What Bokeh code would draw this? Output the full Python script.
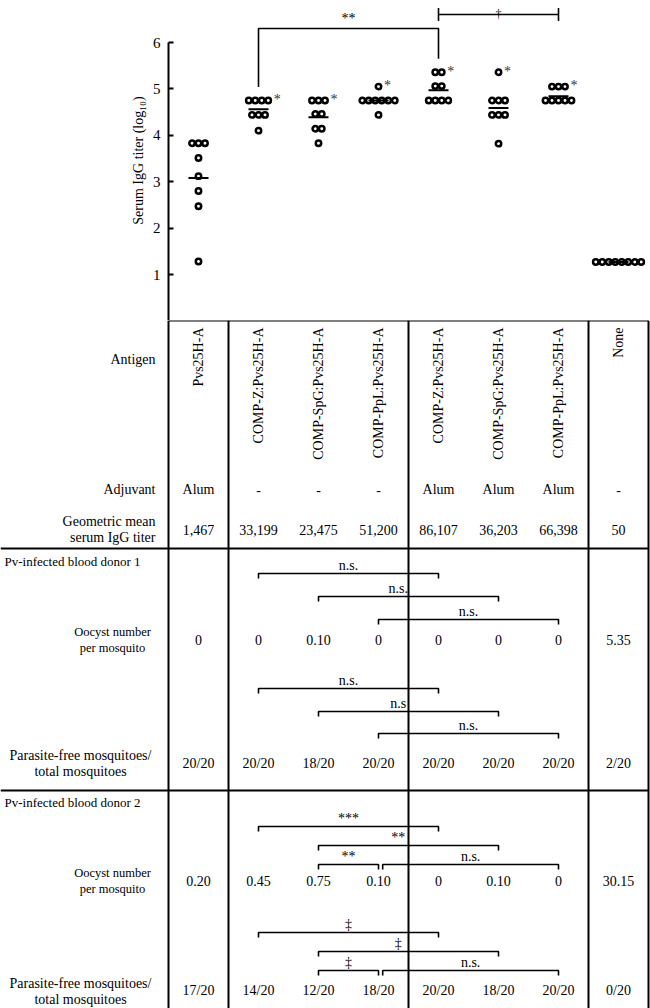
import numpy as np
from bokeh.plotting import figure
from bokeh.models import Range1d, FixedTicker
from bokeh.layouts import column
from bokeh.embed import file_html
from bokeh.resources import INLINE
from bokeh.core.properties import value

# ------------------------------------------------------------------ data
antigens = ["Pvs25H-A", "COMP-Z:Pvs25H-A", "COMP-SpG:Pvs25H-A", "COMP-PpL:Pvs25H-A",
            "COMP-Z:Pvs25H-A", "COMP-SpG:Pvs25H-A", "COMP-PpL:Pvs25H-A", "None"]
adjuvants = ["Alum", "-", "-", "-", "Alum", "Alum", "Alum", "-"]
gmt_labels = ["1,467", "33,199", "23,475", "51,200", "86,107", "36,203", "66,398", "50"]

titer_g0 = [3.83, 3.83, 3.83, 3.51, 3.12, 2.80, 2.47, 1.28]
titer_g1 = [4.75, 4.75, 4.75, 4.75, 4.44, 4.44, 4.44, 4.10]
titer_g2 = [4.75, 4.75, 4.75, 4.46, 4.46, 4.14, 4.14, 3.83]
titer_g3 = [5.05, 4.75, 4.75, 4.75, 4.75, 4.75, 4.75, 4.44]
titer_g4 = [5.36, 5.36, 5.06, 5.06, 4.75, 4.75, 4.75, 4.75]
titer_g5 = [5.36, 4.75, 4.75, 4.75, 4.44, 4.44, 4.44, 3.82]
titer_g6 = [5.05, 5.05, 5.05, 4.75, 4.75, 4.75, 4.75, 4.75]
titer_g7 = [1.27, 1.27, 1.27, 1.27, 1.27, 1.27, 1.27, 1.27]
titer_groups = [titer_g0, titer_g1, titer_g2, titer_g3, titer_g4, titer_g5, titer_g6, titer_g7]
titer_means = [3.08, 4.56, 4.39, 4.75, 4.97, 4.59, 4.84, 1.27]
titer_marks = ["", "*", "*", "*", "*", "*", "*", ""]
y_ticks = [1, 2, 3, 4, 5, 6]
top_brackets = [(1, 4, "**"), (4, 6, "\u2020")]

oocyst_d1 = ["0", "0", "0.10", "0", "0", "0", "0", "5.35"]
free_d1 = ["20/20", "20/20", "18/20", "20/20", "20/20", "20/20", "20/20", "2/20"]
oocyst_d2 = ["0.20", "0.45", "0.75", "0.10", "0", "0.10", "0", "30.15"]
free_d2 = ["17/20", "14/20", "12/20", "18/20", "20/20", "18/20", "20/20", "0/20"]

br_oocyst_d1 = [(1, 4, "n.s."), (2, 5, "n.s."), (3, 6, "n.s.")]
br_free_d1 = [(1, 4, "n.s."), (2, 5, "n.s"), (3, 6, "n.s.")]
br_oocyst_d2 = [(1, 4, "***"), (2, 5, "**"), (2, 3, "**"), (3, 6, "n.s.")]
br_free_d2 = [(1, 4, "\u2021"), (2, 5, "\u2021"), (2, 3, "\u2021"), (3, 6, "n.s.")]

group_boundaries = [-0.5, 0.5, 3.5, 6.5, 7.5]

# ------------------------------------------------------------------ layout
FONT = "Liberation Serif"
REF_W, REF_H = 650, 1008
PAGE_W, PAGE_H = 650, 1008
SX, SY = PAGE_W / REF_W, PAGE_H / REF_H
X0, DX = 198, 60          # reference px of first column centre / column pitch
TABLE_TOP = 320
Y6, Y1 = 42, 274          # reference px of ticks 6 and 1
PER = (Y1 - Y6) / 5.0


def gx(ref_x):
    return (ref_x - X0) / DX


def tv(ref_y):
    return 6 - (ref_y - Y6) / PER


top_h = round(TABLE_TOP * SY)
bot_h = PAGE_H - top_h
left_border = round((X0 - DX / 2) * SX)
x_end = -0.5 + (PAGE_W - left_border) / SX / DX
t_top = tv(0)
t_bot = tv(top_h / SY)

# ------------------------------------------------------------------ top scatter
p1 = figure(width=PAGE_W, height=top_h, output_backend="svg", toolbar_location=None,
            x_range=Range1d(-0.5, x_end), y_range=Range1d(t_bot, t_top),
            x_axis_location=None, y_axis_location="left",
            min_border_left=left_border, min_border_right=0, min_border_top=0,
            min_border_bottom=0)
p1.outline_line_color = None
p1.grid.visible = False
ax = p1.yaxis[0]
ax.ticker = FixedTicker(ticks=y_ticks)
ax.bounds = (t_bot, 6)
ax.major_tick_in = 5
ax.major_tick_out = 0
ax.minor_tick_line_color = None
ax.axis_line_width = 2
ax.major_tick_line_width = 2
ax.major_label_text_font = FONT
ax.major_label_text_font_size = "15px"
ax.major_label_text_color = "black"
ax.major_label_standoff = 8
ax.axis_label = "Serum IgG titer (log\u2081\u2080)"
ax.axis_label_text_font = FONT
ax.axis_label_text_font_size = "14px"
ax.axis_label_text_font_style = "normal"
ax.axis_label_text_color = "black"
ax.axis_label_standoff = 4

DOT_SP = 6.5 / DX
xs, ys = [], []
for gi, vals in enumerate(titer_groups):
    for v in sorted(set(vals), reverse=True):
        n = vals.count(v)
        for k in range(n):
            xs.append(gi + (k - (n - 1) / 2) * DOT_SP)
            ys.append(v)
p1.scatter(xs, ys, size=5.4, marker="circle", fill_color="white",
           line_color="black", line_width=2.5)

MW = 10 / DX
gidx = list(range(len(titer_means)))
p1.segment(x0=[g - MW for g in gidx], y0=titer_means, x1=[g + MW for g in gidx],
           y1=titer_means, line_color="black", line_width=2)

mx, my, mt = [], [], []
for gi, (vals, m) in enumerate(zip(titer_groups, titer_marks)):
    if m:
        top = max(vals)
        n = vals.count(top)
        mx.append(gi + (n - 1) / 2 * DOT_SP + 0.09)
        my.append(top + 0.02)
        mt.append(m)
p1.text(mx, my, text=mt, text_font=value(FONT), text_font_size="14px",
        text_align="left", text_baseline="middle", text_color="#333333")

# ** bracket (legs down to above the tallest point of each group)
a, b, lab = top_brackets[0]
yl = tv(28)
la = max(titer_groups[a]) + 0.29
lb = max(titer_groups[b]) + 0.29
p1.multi_line(xs=[[a, a, b, b]], ys=[[la, yl, yl, lb]], line_color="black", line_width=1.6)
p1.text([(a + b) / 2], [yl + 0.06], text=[lab], text_font=value(FONT),
        text_font_size="14px", text_align="center", text_baseline="bottom",
        text_color="black")
# dagger bracket
a, b, lab = top_brackets[1]
yl = tv(14)
hh = 0.14
p1.segment(x0=[a, a, b], y0=[yl, yl - hh, yl - hh],
           x1=[b, a, b], y1=[yl, yl + hh, yl + hh],
           line_color="black", line_width=1.6)
p1.text([(a + b) / 2], [yl + 0.01], text=[lab], text_font=value(FONT),
        text_font_size="12px", text_align="center", text_baseline="alphabetic",
        text_color="black")

# ------------------------------------------------------------------ table
p2 = figure(width=PAGE_W, height=bot_h, output_backend="svg", toolbar_location=None,
            x_range=Range1d(-0.5 - left_border / SX / DX, x_end),
            y_range=Range1d(TABLE_TOP + bot_h / SY, TABLE_TOP),
            x_axis_location=None, y_axis_location=None,
            min_border_left=0, min_border_right=0, min_border_top=0, min_border_bottom=0)
p2.outline_line_color = None
p2.grid.visible = False

XL = gx(0)
G = list(range(len(antigens)))
Y_BOTTOM = TABLE_TOP + bot_h / SY + 2

# table rules
p2.segment(x0=group_boundaries, y0=[TABLE_TOP] * 5, x1=group_boundaries, y1=[Y_BOTTOM] * 5,
           line_color="black", line_width=2)
p2.segment(x0=[group_boundaries[0], XL, XL], y0=[TABLE_TOP, 548, 790],
           x1=[group_boundaries[-1]] * 3, y1=[TABLE_TOP, 548, 790],
           line_color="black", line_width=2)


def label(x, y, s, size=14, align="center"):
    p2.text([x], [y], text=[s], text_font=value(FONT), text_font_size=f"{size}px",
            text_align=align, text_baseline="middle", text_color="black")


def row(y, vals, size=14):
    p2.text(G, [y] * len(G), text=vals, text_font=value(FONT), text_font_size=f"{size}px",
            text_align="center", text_baseline="middle", text_color="black")


LX = gx(155)
label(LX, 359, "Antigen", align="right")
p2.text(G, [327] * len(G), text=antigens, text_font=value(FONT), text_font_size="14px",
        text_align="right", text_baseline="middle", angle=np.pi / 2, text_color="black")

label(LX, 489, "Adjuvant", align="right")
row(489, adjuvants)

label(LX, 521, "Geometric mean", align="right")
label(LX, 537, "serum IgG titer", align="right")
row(529, gmt_labels)

DL = gx(4)
OX = gx(112)
PX = gx(80)


def brackets(blist, levels_y):
    placed = []
    for a, b, lab in blist:
        lvl = 0
        while any(l == lvl and not (b <= pa or a >= pb) for pa, pb, l in placed):
            lvl += 1
        placed.append((a, b, lvl))
    for (a, b, lab), (_, _, lvl) in zip(blist, placed):
        y = levels_y[lvl]
        a0 = a + (0.07 if any(pb == a and l == lvl for pa, pb, l in placed) else 0)
        p2.multi_line(xs=[[a0, a0, b, b]], ys=[[y + 5, y, y, y + 5]],
                      line_color="black", line_width=1.6)
        cx = (a0 + b) / 2
        if any(abs(cx - gb) < 0.2 for gb in group_boundaries):
            cx -= 0.17
        p2.text([cx], [y - 1], text=[lab], text_font=value(FONT), text_font_size="14px",
                text_align="center", text_baseline="bottom", text_color="black")


# donor 1
label(DL, 561, "Pv-infected blood donor 1", size=13, align="left")
brackets(br_oocyst_d1, [573, 596, 619])
label(OX, 631, "Oocyst number", size=12.5)
label(OX, 647, "per mosquito", size=12.5)
row(639, oocyst_d1)
brackets(br_free_d1, [688, 711, 733])
label(PX, 755, "Parasite-free mosquitoes/")
label(PX, 771, "total mosquitoes")
row(763, free_d1)

# donor 2
label(DL, 802, "Pv-infected blood donor 2", size=13, align="left")
brackets(br_oocyst_d2, [826, 845, 864])
label(OX, 872, "Oocyst number", size=12.5)
label(OX, 888, "per mosquito", size=12.5)
row(880, oocyst_d2)
brackets(br_free_d2, [932, 951, 970])
label(PX, 983, "Parasite-free mosquitoes/")
label(PX, 999, "total mosquitoes")
row(990, free_d2)

for fig in (p1, p2):
    if "frame_align" in fig.properties():
        fig.frame_align = False

layout = column(p1, p2, spacing=0)
open("out.html", "w").write(file_html(layout, INLINE))
